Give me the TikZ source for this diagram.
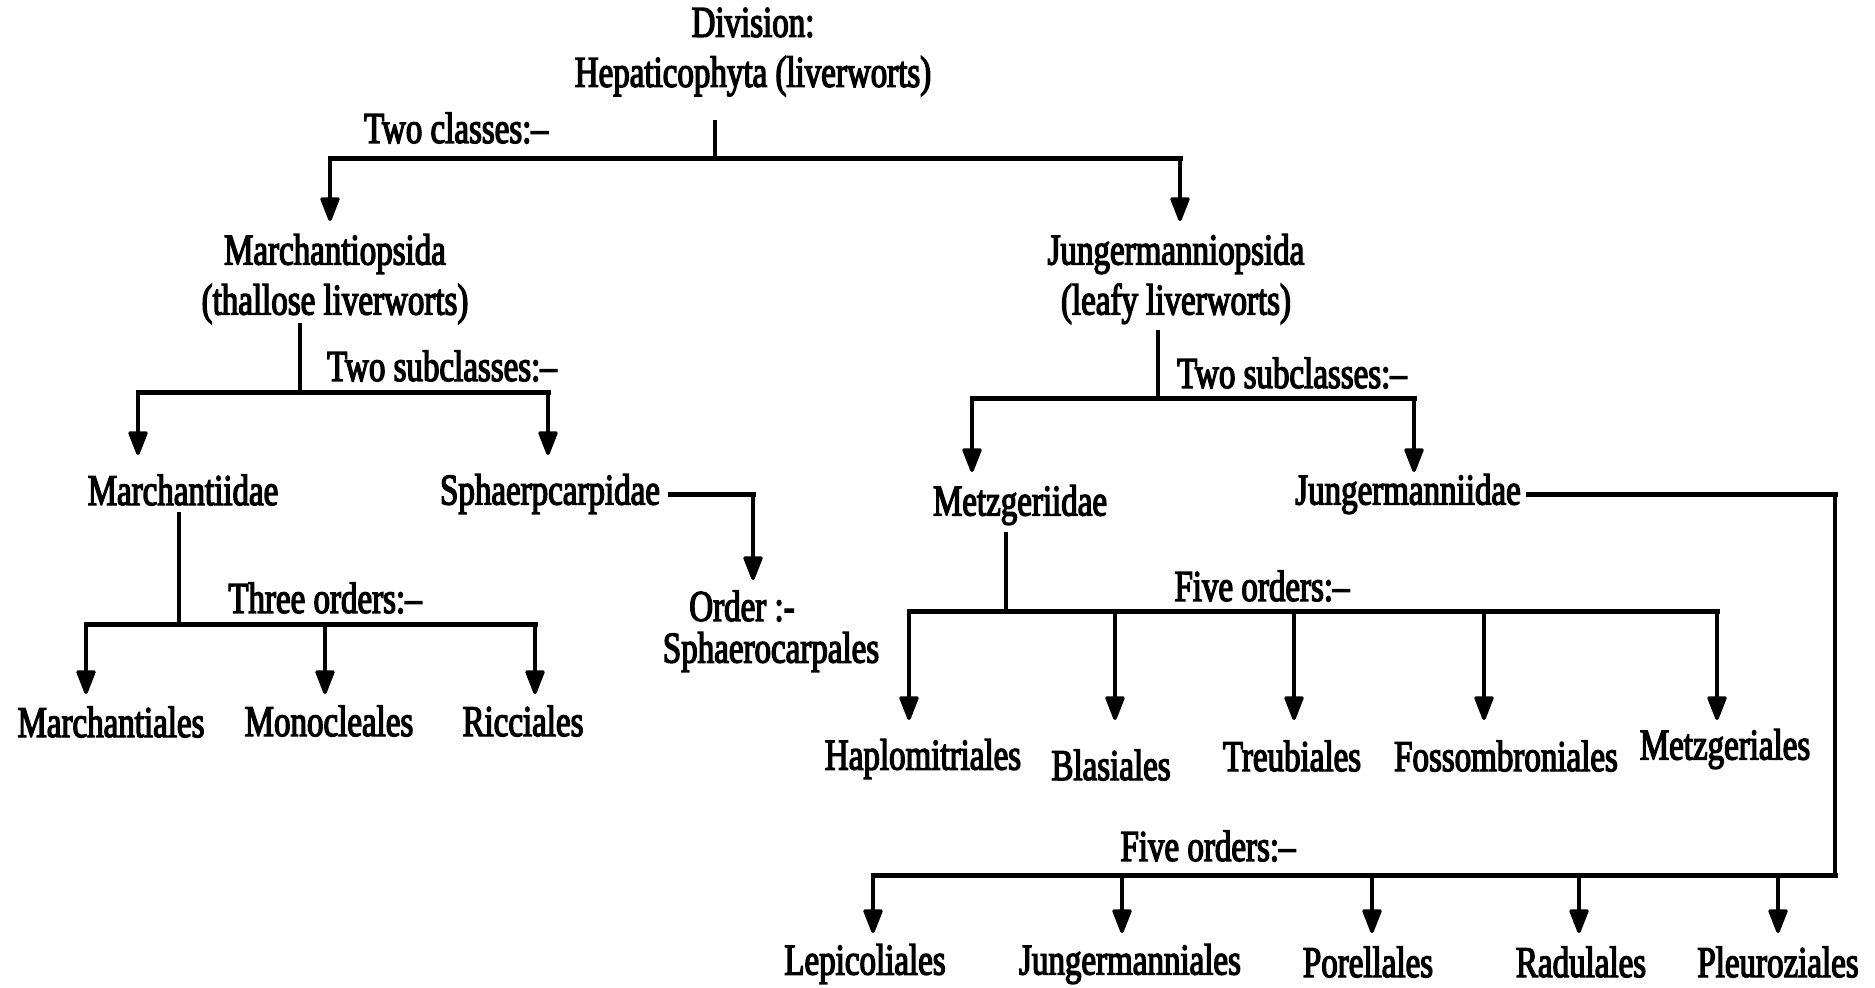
\documentclass[tikz,border=0pt]{standalone}
\usepackage{fontspec}
\setmainfont{Liberation Serif}[FakeStretch=0.75,FakeBold=3]
\usetikzlibrary{arrows.meta}
\begin{document}
\begin{tikzpicture}[x=1pt,y=-1pt,
  lbl/.style={inner sep=0pt, align=center, font=\fontsize{44}{50}\selectfont},
  barln/.style={line width=5pt, line cap=rect},
  stemln/.style={line width=3.5pt},
  arr/.style={line width=3.5pt, -{Triangle[width=20pt,length=27pt,round]}}]
\useasboundingbox[fill=white] (0,0) rectangle (1875,988);

% ---- text nodes ----
\node[lbl] (div) at (753,52) {Division:\\Hepaticophyta (liverworts)};
\node[lbl] (twocl) at (456,128) {Two classes:–};
\node[lbl] (march) at (335,279) {Marchantiopsida\\(thallose liverworts)};
\node[lbl] (junger) at (1176,279) {Jungermanniopsida\\(leafy liverworts)};
\node[lbl] (subA) at (442,366) {Two subclasses:–};
\node[lbl] (subB) at (1292,373) {Two subclasses:–};
\node[lbl] (marchid) at (183,490) {Marchantiidae};
\node[lbl] (sphaer) at (550,494) {Sphaerpcarpidae};
\node[lbl] (metz) at (1020,505) {Metzgeriidae};
\node[lbl] (jungid) at (1408,494) {Jungermanniidae};
\node[lbl] (three) at (325,598) {Three orders:–};
\node[lbl] (orderA) at (742,606) {Order :-};
\node[lbl] (orderB) at (771,652) {Sphaerocarpales};
\node[lbl] (fiveA) at (1262,586) {Five orders:–};
\node[lbl] (fiveB) at (1208,846) {Five orders:–};
\node[lbl] (mA) at (111,722) {Marchantiales};
\node[lbl] (mB) at (329,721) {Monocleales};
\node[lbl] (mC) at (523,721) {Ricciales};
\node[lbl] (zA) at (923,759) {Haplomitriales};
\node[lbl] (zB) at (1111,765) {Blasiales};
\node[lbl] (zC) at (1292,756) {Treubiales};
\node[lbl] (zD) at (1506,756) {Fossombroniales};
\node[lbl] (zE) at (1725,749) {Metzgeriales};
\node[lbl] (jA) at (865,964) {Lepicoliales};
\node[lbl] (jB) at (1130,964) {Jungermanniales};
\node[lbl] (jC) at (1368,962) {Porellales};
\node[lbl] (jD) at (1581,962) {Radulales};
\node[lbl] (jE) at (1778,962) {Pleuroziales};

% ---- junction coordinates ----
\coordinate (t0) at (715,120);  \coordinate (t1) at (715,158);
\coordinate (tl) at (330,158);  \coordinate (tr) at (1180,158);
\coordinate (tlx) at (330,221); \coordinate (trx) at (1180,221);

\coordinate (a0) at (300,323);  \coordinate (a1) at (300,392);
\coordinate (al) at (138,392);  \coordinate (ar) at (548,392);
\coordinate (alx) at (138,455); \coordinate (arx) at (548,455);

\coordinate (b0) at (179,512);  \coordinate (b1) at (179,624);
\coordinate (bl) at (86,624);   \coordinate (bm) at (325,624); \coordinate (br) at (535,624);

\coordinate (s0) at (670,494);  \coordinate (s1) at (753,494); \coordinate (s2) at (753,580);

\coordinate (c0) at (1158,330); \coordinate (c1) at (1158,398);
\coordinate (cl) at (972,398);  \coordinate (cr) at (1414,398);

\coordinate (d0) at (1006,532); \coordinate (d1) at (1006,611);
\coordinate (dA) at (909,611);  \coordinate (dB) at (1115,611); \coordinate (dC) at (1294,611);
\coordinate (dD) at (1484,611); \coordinate (dE) at (1717,611);

\coordinate (e0) at (1528,494); \coordinate (e1) at (1835,494); \coordinate (e2) at (1835,875);
\coordinate (eA) at (873,875);  \coordinate (eB) at (1122,875); \coordinate (eC) at (1372,875);
\coordinate (eD) at (1579,875); \coordinate (eE) at (1778,875);

% ---- connectors ----
\draw[stemln] (t0) -- (t1);
\draw[barln] (tl) -- (tr);
\draw[arr] (tl) -- (tlx);
\draw[arr] (tr) -- (trx);

\draw[stemln] (a0) -- (a1);
\draw[barln] (al) -- (ar);
\draw[arr] (al) -- (alx);
\draw[arr] (ar) -- (arx);

\draw[stemln] (b0) -- (b1);
\draw[barln] (bl) -- (br);
\draw[arr] (bl) -- (bl |- 0,694);
\draw[arr] (bm) -- (bm |- 0,694);
\draw[arr] (br) -- (br |- 0,694);

\draw[barln] (s0) -- (s1);
\draw[arr] (s1) -- (s2);

\draw[stemln] (c0) -- (c1);
\draw[barln] (cl) -- (cr);
\draw[arr] (cl) -- (cl |- 0,472);
\draw[arr] (cr) -- (cr |- 0,472);

\draw[stemln] (d0) -- (d1);
\draw[barln] (dA) -- (dE);
\foreach \p in {dA,dB,dC,dD,dE} \draw[arr] (\p) -- (\p |- 0,720);

\draw[barln] (e0) -- (e1);
\draw[stemln] (e1) -- (e2);
\draw[barln] (eA) -- (e2);
\foreach \p in {eA,eB,eC,eD,eE} \draw[arr] (\p) -- (\p |- 0,933);
\end{tikzpicture}
\end{document}
